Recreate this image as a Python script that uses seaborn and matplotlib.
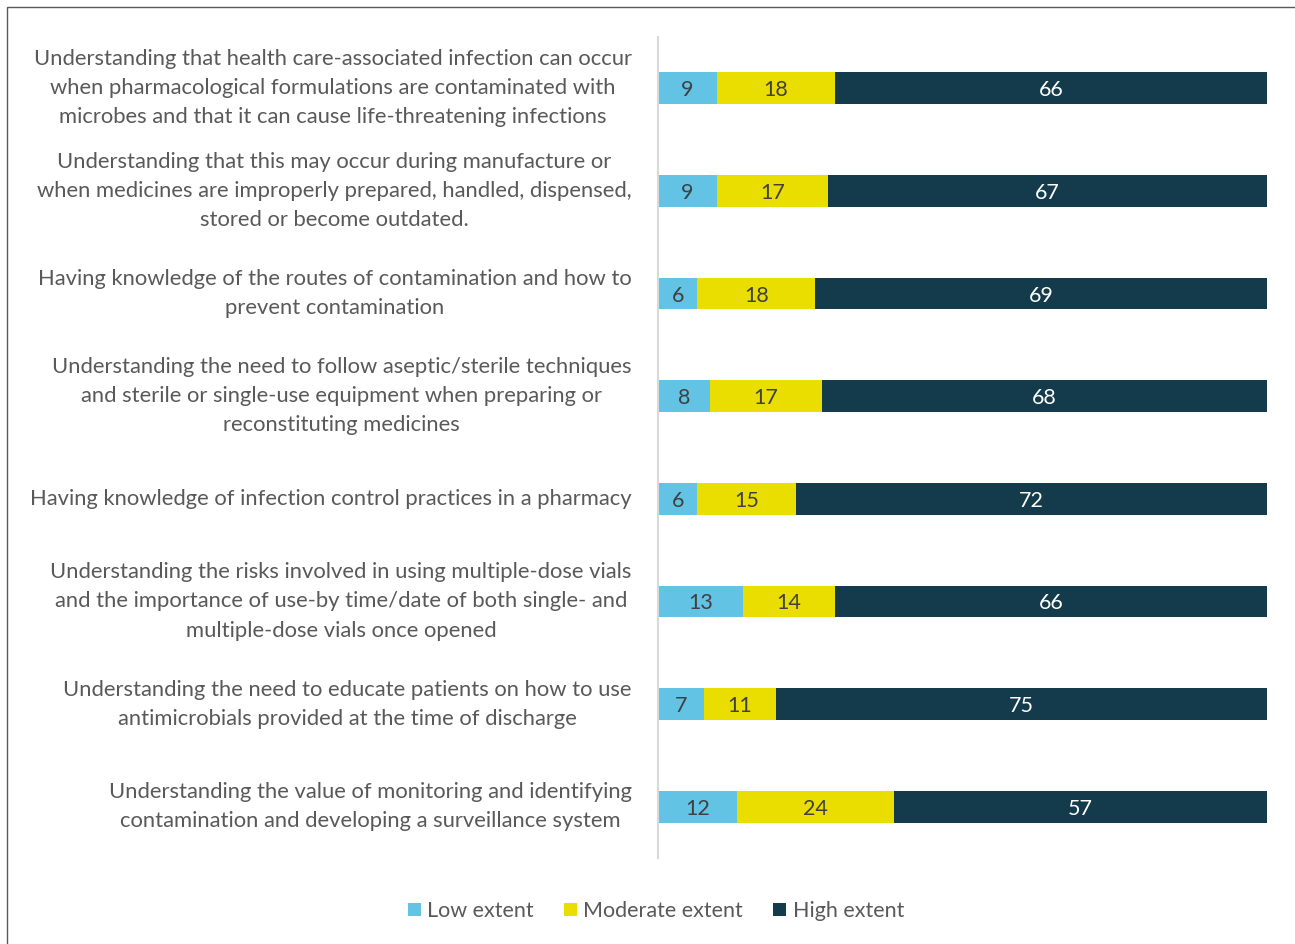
import matplotlib
matplotlib.use("Agg")
import matplotlib.pyplot as plt
from matplotlib.patches import Rectangle, Patch
import numpy as np
import pandas as pd
import seaborn as sns

# Survey items (category labels, already line-broken)
items = [
    "Understanding that health care-associated infection can occur\nwhen pharmacological formulations are contaminated with\nmicrobes and that it can cause life-threatening infections",
    "Understanding that this may occur during manufacture or\nwhen medicines are improperly prepared, handled, dispensed,\nstored or become outdated.",
    "Having knowledge of the routes of contamination and how to\nprevent contamination",
    "Understanding the need to follow aseptic/sterile techniques\nand sterile or single-use equipment when preparing or\nreconstituting medicines",
    "Having knowledge of infection control practices in a pharmacy",
    "Understanding the risks involved in using multiple-dose vials\nand the importance of use-by time/date of both single- and\nmultiple-dose vials once opened",
    "Understanding the need to educate patients on how to use\nantimicrobials provided at the time of discharge",
    "Understanding the value of monitoring and identifying\ncontamination and developing a surveillance system",
]

levels = ["Low extent", "Moderate extent", "High extent"]
low_extent = [9, 9, 6, 8, 6, 13, 7, 12]
moderate_extent = [18, 17, 18, 17, 15, 14, 11, 24]
high_extent = [66, 67, 69, 68, 72, 66, 75, 57]

colors = ["#62C3E4", "#EADD00", "#133B4B"]
label_colors = ["#404040", "#404040", "#FFFFFF"]
text_gray = "#595959"

FONT = "Lato"
plt.rcParams["font.family"] = [FONT, "DejaVu Sans"]

df = pd.DataFrame({"item": items, "Low extent": low_extent,
                   "Moderate extent": moderate_extent, "High extent": high_extent})
totals = df[levels].sum(axis=1)
shares = df[levels].div(totals, axis=0)
cum = shares.cumsum(axis=1)

fig = plt.figure(figsize=(12.95, 9.44), dpi=100)
ax = fig.add_axes([658 / 1295, 1 - 858 / 944, (1267 - 658) / 1295, (858 - 37) / 944])

# Stacked horizontal bars: draw cumulative extents, widest first
for lvl, col in reversed(list(zip(levels, colors))):
    sns.barplot(x=cum[lvl], y=df["item"], orient="h", color=col,
                width=0.31, ax=ax, saturation=1, edgecolor="none")

# Segment value labels
for i in range(len(items)):
    start = 0.0
    for lvl, tc in zip(levels, label_colors):
        w = shares.loc[i, lvl]
        ax.text(start + w / 2, i, f"{df.loc[i, lvl]}", ha="center",
                va="center_baseline", fontsize=15.5, color=tc)
        start += w

ax.set_xlim(0, 1)
ax.set_ylim(7.5, -0.5)
ax.set_xlabel("")
ax.set_ylabel("")
ax.set_xticks([])
for s in ["top", "right", "bottom"]:
    ax.spines[s].set_visible(False)
ax.spines["left"].set_color("#D9D9D9")
ax.spines["left"].set_linewidth(1.5)
ax.tick_params(axis="y", length=0, pad=19)
ax.set_yticks(range(len(items)))
ax.set_yticklabels(items, fontsize=15.8, color=text_gray, ha="right", va="center",
                   multialignment="center", linespacing=1.57)

handles = [Patch(facecolor=c, edgecolor="none") for c in colors]
fig.legend(handles, levels, loc="center", bbox_to_anchor=(656 / 1295, 1 - 911 / 944),
           ncol=3, frameon=False, fontsize=15.5, labelcolor=text_gray,
           handlelength=0.6, handleheight=0.6, handletextpad=0.3, columnspacing=1.4)

# Outer frame (left and top edges visible)
fig.patches.append(Rectangle((7 / 1295, -0.1), 1.2, 1 - 7 / 944 + 0.1,
                             transform=fig.transFigure, fill=False,
                             edgecolor="#595959", linewidth=1))

fig.savefig("out.png", dpi=100, facecolor="white")
